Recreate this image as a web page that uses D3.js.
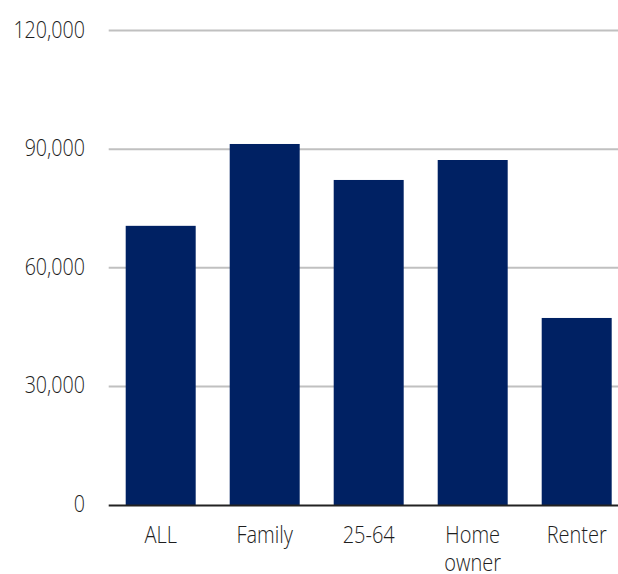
<!DOCTYPE html>
<html>
<head>
<meta charset="utf-8">
<script src="https://cdn.jsdelivr.net/npm/d3@7"></script>
<style>
  html, body { margin: 0; padding: 0; background: #fff; }
  svg text { font-family: "Open Sans", "Noto Sans", sans-serif; font-weight: 300; fill: #1e1e1e; }
</style>
</head>
<body>
<svg id="chart" width="618" height="574"></svg>
<script>
// Category labels (second line used where a label wraps)
const categories = ["ALL", "Family", "25-64", "Home owner", "Renter"];
const labelLines = [["ALL"], ["Family"], ["25-64"], ["Home", "owner"], ["Renter"]];
const values = [70600, 91300, 82200, 87250, 47300];
const yTicks = [0, 30000, 60000, 90000, 120000];

const svg = d3.select("#chart");
const plotLeft = 108.7, bandStep = 104;
const plotTop = 30.5, plotBottom = 505;

const x = d3.scaleBand()
  .domain(categories)
  .range([plotLeft, plotLeft + bandStep * categories.length])
  .paddingInner(0.327)
  .paddingOuter(0.1635);

const y = d3.scaleLinear().domain([0, 120000]).range([plotBottom, plotTop]);

// Horizontal gridlines
svg.append("g")
  .selectAll("line")
  .data(yTicks.filter(d => d > 0))
  .join("line")
  .attr("x1", plotLeft).attr("x2", 618)
  .attr("y1", d => y(d)).attr("y2", d => y(d))
  .attr("stroke", "#c0c0c0").attr("stroke-width", 2);

// Y tick labels (narrowed to a condensed look)
const fmt = d3.format(",");
svg.append("g")
  .selectAll("text")
  .data(yTicks)
  .join("text")
  .attr("transform", d => `translate(85,${y(d) + 7}) scale(0.82,1)`)
  .attr("text-anchor", "end")
  .attr("font-size", 24)
  .text(d => fmt(d));

// Bars
svg.append("g")
  .selectAll("rect")
  .data(values)
  .join("rect")
  .attr("x", (d, i) => x(categories[i]))
  .attr("width", x.bandwidth())
  .attr("y", d => y(d))
  .attr("height", d => y(0) - y(d))
  .attr("fill", "#002163");

// Baseline
svg.append("line")
  .attr("x1", plotLeft).attr("x2", 618)
  .attr("y1", y(0) + 0.5).attr("y2", y(0) + 0.5)
  .attr("stroke", "#222").attr("stroke-width", 2);

// Category labels
const xl = svg.append("g")
  .selectAll("text")
  .data(categories)
  .join("text")
  .attr("transform", d => `translate(${x(d) + x.bandwidth() / 2},543) scale(0.87,1)`)
  .attr("text-anchor", "middle")
  .attr("font-size", 23);
xl.each(function(d, i) {
  d3.select(this).selectAll("tspan")
    .data(labelLines[i])
    .join("tspan")
    .attr("x", 0)
    .attr("dy", (t, j) => j === 0 ? 0 : 28)
    .text(t => t);
});
</script>
</body>
</html>
